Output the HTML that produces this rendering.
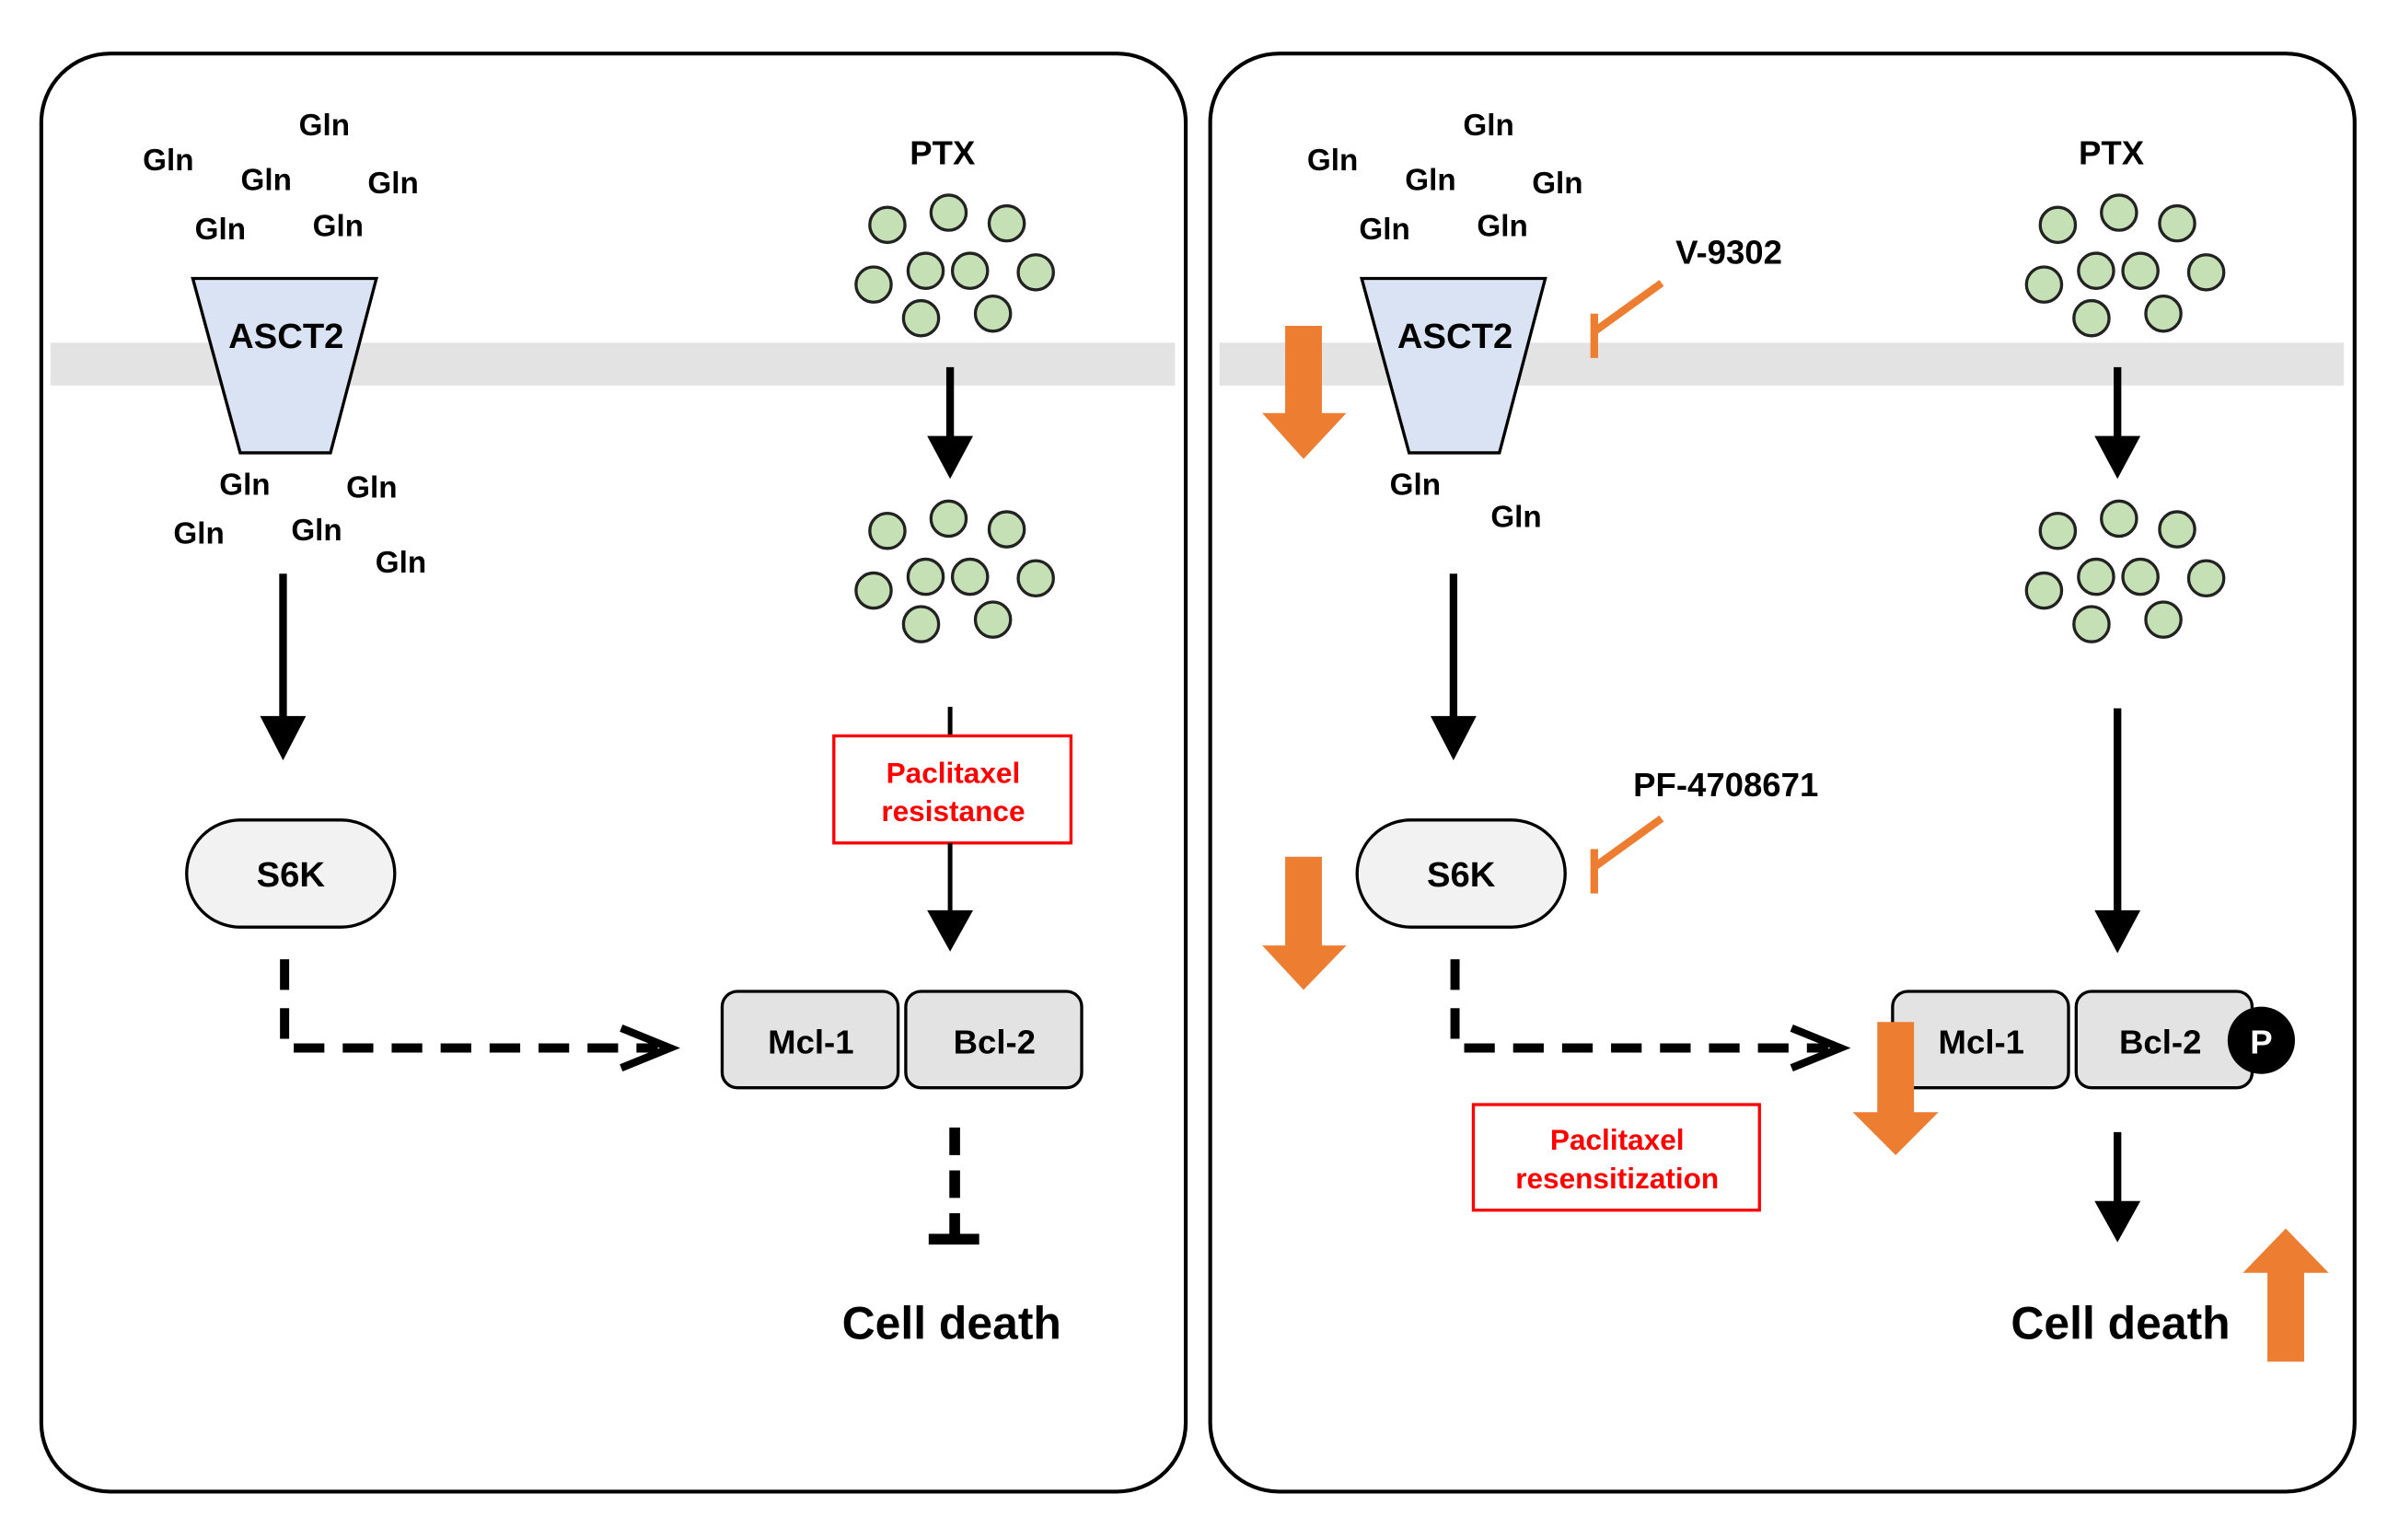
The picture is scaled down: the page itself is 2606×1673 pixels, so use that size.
<!DOCTYPE html>
<html><head><meta charset="utf-8"><style>
html,body{margin:0;padding:0;background:#fff;}
svg{display:block;}
text{font-family:"Liberation Sans",Arial,sans-serif;font-weight:bold;text-anchor:middle;dominant-baseline:central;}
</style></head><body>
<svg width="2606" height="1673" viewBox="0 0 1568 1006.6" preserveAspectRatio="none" xmlns="http://www.w3.org/2000/svg">
<defs>
<g id="dots">
<circle cx="580" cy="147" r="11.5"/><circle cx="620" cy="139" r="11.5"/><circle cx="658" cy="146" r="11.5"/>
<circle cx="571" cy="186" r="11.5"/><circle cx="605" cy="177" r="11.5"/><circle cx="634" cy="177" r="11.5"/>
<circle cx="677" cy="178" r="11.5"/><circle cx="602" cy="208" r="11.5"/><circle cx="649" cy="205" r="11.5"/>
</g>
</defs>
<rect width="1568" height="1006.6" fill="#fff"/>
<rect x="27" y="35" width="748" height="940" rx="45" fill="#fff" stroke="#000" stroke-width="2.5"/>
<rect x="791" y="35" width="748" height="940" rx="45" fill="#fff" stroke="#000" stroke-width="2.5"/>
<rect x="33" y="224" width="735" height="28" fill="#e3e3e3"/>
<rect x="797" y="224" width="735" height="28" fill="#e3e3e3"/>

<g font-size="20">
<text x="110" y="105">Gln</text><text x="212" y="82">Gln</text><text x="174" y="118">Gln</text>
<text x="257" y="120">Gln</text><text x="144" y="150">Gln</text><text x="221" y="148">Gln</text>
<text x="160" y="317">Gln</text><text x="243" y="319">Gln</text><text x="130" y="349">Gln</text>
<text x="207" y="347">Gln</text><text x="262" y="368">Gln</text>
</g>
<polygon points="126,182 246,182 216,296 157,296" fill="#dae3f3" stroke="#000" stroke-width="2"/>
<text x="187" y="220" font-size="23">ASCT2</text>
<line x1="185" y1="375" x2="185" y2="470" stroke="#000" stroke-width="5"/>
<polygon points="170,468 200,468 185,497"/>
<rect x="122" y="536" width="136" height="70" rx="35" fill="#f2f2f2" stroke="#000" stroke-width="2"/>
<text x="190" y="572" font-size="23">S6K</text>
<path d="M186 627 V685 H430" fill="none" stroke="#000" stroke-width="6" stroke-dasharray="20 12"/>
<polyline points="406,672 438,685 406,698" fill="none" stroke="#000" stroke-width="5"/>
<rect x="472" y="648" width="115" height="63" rx="10" fill="#e3e3e3" stroke="#000" stroke-width="2"/>
<rect x="592" y="648" width="115" height="63" rx="10" fill="#e3e3e3" stroke="#000" stroke-width="2"/>
<text x="530" y="681" font-size="22">Mcl-1</text><text x="650" y="681" font-size="22">Bcl-2</text>
<text x="616" y="100" font-size="22">PTX</text>
<g fill="#c5e0b4" stroke="#222" stroke-width="2"><use href="#dots"/><use href="#dots" transform="translate(0,200)"/></g>
<line x1="621" y1="240" x2="621" y2="288" stroke="#000" stroke-width="5"/>
<polygon points="606,285 636,285 621,313"/>
<line x1="621" y1="462" x2="621" y2="482" stroke="#000" stroke-width="3"/>
<rect x="545" y="481" width="155" height="70" fill="#fff" stroke="#f00" stroke-width="2"/>
<text x="623" y="505" font-size="19" fill="#f00">Paclitaxel</text>
<text x="623" y="530" font-size="19" fill="#f00">resistance</text>
<line x1="621" y1="551" x2="621" y2="598" stroke="#000" stroke-width="3"/>
<polygon points="606,595 636,595 621,622"/>
<line x1="624" y1="737" x2="624" y2="808" stroke="#000" stroke-width="7" stroke-dasharray="18 10"/>
<line x1="607" y1="810" x2="640" y2="810" stroke="#000" stroke-width="7"/>
<text x="622" y="865" font-size="30">Cell death</text>

<g font-size="20">
<text x="871" y="105">Gln</text><text x="973" y="82">Gln</text><text x="935" y="118">Gln</text>
<text x="1018" y="120">Gln</text><text x="905" y="150">Gln</text><text x="982" y="148">Gln</text>
<text x="925" y="317">Gln</text><text x="991" y="338">Gln</text>
</g>
<polygon points="890,182 1010,182 980,296 921,296" fill="#dae3f3" stroke="#000" stroke-width="2"/>
<text x="951" y="220" font-size="23">ASCT2</text>
<line x1="950" y1="375" x2="950" y2="470" stroke="#000" stroke-width="5"/>
<polygon points="935,468 965,468 950,497"/>
<rect x="887" y="536" width="136" height="70" rx="35" fill="#f2f2f2" stroke="#000" stroke-width="2"/>
<text x="955" y="572" font-size="23">S6K</text>
<path d="M951 627 V685 H1195" fill="none" stroke="#000" stroke-width="6" stroke-dasharray="20 12"/>
<polyline points="1171,672 1203,685 1171,698" fill="none" stroke="#000" stroke-width="5"/>
<rect x="1237" y="648" width="115" height="63" rx="10" fill="#e3e3e3" stroke="#000" stroke-width="2"/>
<rect x="1357" y="648" width="115" height="63" rx="10" fill="#e3e3e3" stroke="#000" stroke-width="2"/>
<text x="1295" y="681" font-size="22">Mcl-1</text><text x="1412" y="681" font-size="22">Bcl-2</text>
<circle cx="1478" cy="680" r="22" fill="#000"/>
<text x="1478" y="681" font-size="22" fill="#fff">P</text>
<text x="1380" y="100" font-size="22">PTX</text>
<g fill="#c5e0b4" stroke="#222" stroke-width="2" transform="translate(765,0)"><use href="#dots"/><use href="#dots" transform="translate(0,200)"/></g>
<line x1="1384" y1="240" x2="1384" y2="288" stroke="#000" stroke-width="5"/>
<polygon points="1369,285 1399,285 1384,313"/>
<line x1="1384" y1="463" x2="1384" y2="598" stroke="#000" stroke-width="5"/>
<polygon points="1369,595 1399,595 1384,623"/>
<line x1="1384" y1="740" x2="1384" y2="788" stroke="#000" stroke-width="5"/>
<polygon points="1369,785 1399,785 1384,812"/>
<text x="1386" y="865" font-size="30">Cell death</text>
<rect x="963" y="722" width="187" height="69" fill="#fff" stroke="#f00" stroke-width="2"/>
<text x="1057" y="745" font-size="19" fill="#f00">Paclitaxel</text>
<text x="1057" y="770" font-size="19" fill="#f00">resensitization</text>
<text x="1130" y="165" font-size="22">V-9302</text>
<g stroke="#ed7d31" stroke-width="5" fill="none">
<line x1="1086" y1="185" x2="1043" y2="216"/><line x1="1042" y1="205" x2="1042" y2="234"/>
<line x1="1086" y1="535" x2="1043" y2="566"/><line x1="1042" y1="555" x2="1042" y2="584"/>
</g>
<text x="1128" y="513" font-size="22">PF-4708671</text>
<g fill="#ed7d31">
<polygon points="840,213 864,213 864,270 880,270 852,300 825,270 840,270"/>
<polygon points="840,560 864,560 864,618 880,618 852,647 825,618 840,618"/>
<polygon points="1227,668 1251,668 1251,727 1267,727 1239,755 1211,727 1227,727"/>
<polygon points="1482,890 1506,890 1506,832 1522,832 1494,803 1466,832 1482,832"/>
</g>
</svg>
</body></html>
